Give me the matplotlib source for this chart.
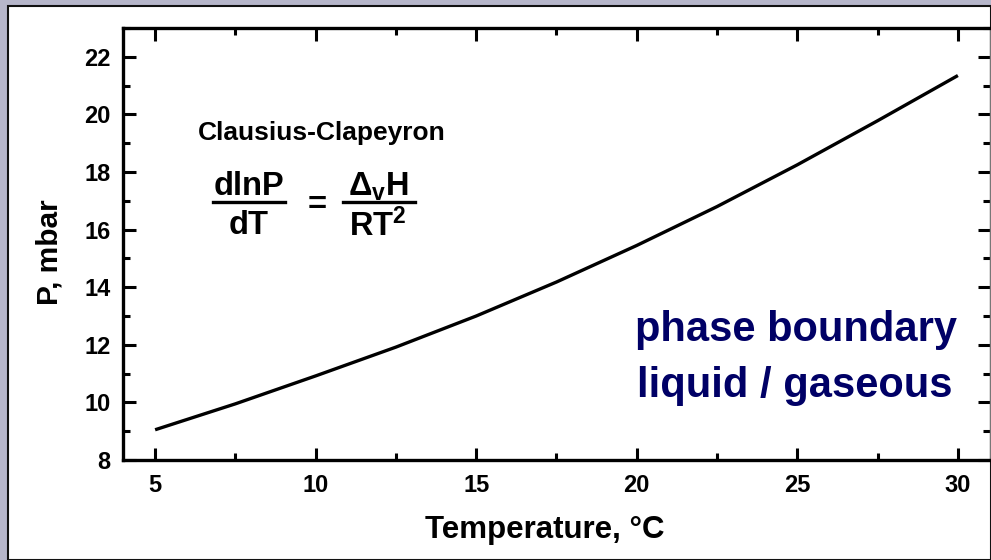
import matplotlib
matplotlib.use("Agg")
import matplotlib.pyplot as plt
from matplotlib.patches import Rectangle
from matplotlib.lines import Line2D
from matplotlib.ticker import MultipleLocator

temperature = [5, 7.5, 10, 12.5, 15, 17.5, 20, 22.5, 25, 27.5, 30]
pressure = [9.05, 9.95, 10.92, 11.92, 13.0, 14.18, 15.45, 16.8, 18.25, 19.78, 21.35]
x_ticks = [5, 10, 15, 20, 25, 30]
y_ticks = [8, 10, 12, 14, 16, 18, 20, 22]

plt.rcParams['font.family'] = ['Liberation Sans', 'DejaVu Sans']
plt.rcParams['font.weight'] = 'bold'
plt.rcParams['mathtext.fontset'] = 'custom'
plt.rcParams['mathtext.bf'] = 'Liberation Sans:bold'
plt.rcParams['mathtext.rm'] = 'Liberation Sans:bold'

W, H = 991, 560
fig = plt.figure(figsize=(W / 100, H / 100), dpi=100, facecolor='#b6b6ca')

# white panel
fig.patches.append(Rectangle((8 / W, 0), (W - 8) / W, (H - 6) / H, transform=fig.transFigure,
                             facecolor='white', edgecolor='#111111', linewidth=1.5, zorder=-5))

ax = fig.add_axes([123 / W, 100 / H, 867 / W, 432 / H])
ax.set_zorder(5)
ax.set_facecolor('none')
ax.plot(temperature, pressure, color='black', linewidth=2.4, solid_capstyle='butt')

ax.set_xlim(4, 31)
ax.set_ylim(8, 23)
ax.set_xticks(x_ticks)
ax.set_yticks(y_ticks)
ax.xaxis.set_minor_locator(MultipleLocator(2.5))
ax.yaxis.set_minor_locator(MultipleLocator(1))
ax.tick_params(which='both', direction='in', top=True, right=True, labelsize=17, width=2.2)
ax.tick_params(axis='x', pad=10)
ax.tick_params(axis='y', pad=9)
ax.tick_params(which='major', length=9)
ax.tick_params(which='minor', length=5)
for lab in ax.get_xticklabels() + ax.get_yticklabels():
    lab.set_fontweight('bold')

for s in ['left', 'bottom', 'top']:
    ax.spines[s].set_linewidth(2.4)
ax.spines['right'].set_linewidth(1.0)
ax.spines['right'].set_color('#777777')

ax.set_xlabel('Temperature, °C', fontsize=22.5, fontweight='bold', labelpad=13)
ax.set_ylabel('P, mbar', fontsize=21.5, fontweight='bold', labelpad=15)
ax.xaxis.label.set_x(0.4867)
ax.yaxis.label.set_y(0.481)

def fx(px):
    return px / W
def fy(py):
    return 1 - py / H

fig.text(fx(322), fy(133), 'Clausius-Clapeyron', fontsize=19, fontweight='bold', ha='center', va='center', zorder=6)
fig.text(fx(249), fy(187), 'dlnP', fontsize=23.5, fontweight='bold', ha='center', va='center', zorder=6)
fig.text(fx(249), fy(226), 'dT', fontsize=23.5, fontweight='bold', ha='center', va='center', zorder=6)
fig.text(fx(317), fy(206), '=', fontsize=23.5, fontweight='bold', ha='center', va='center', zorder=6)
fig.text(fx(378), fy(187), r'$\mathbf{\Delta_{v}}$H', fontsize=23.5, fontweight='bold', ha='center', va='center', zorder=6)
fig.text(fx(378), fy(226), r'RT$\mathbf{^{2}}$', fontsize=23.5, fontweight='bold', ha='center', va='center', zorder=6)
fig.lines.append(Line2D([fx(213), fx(285)], [fy(202), fy(202)], transform=fig.transFigure, color='black', linewidth=2.4, zorder=6))
fig.lines.append(Line2D([fx(343), fx(415)], [fy(202), fy(202)], transform=fig.transFigure, color='black', linewidth=2.4, zorder=6))

fig.text(fx(796), fy(330), 'phase boundary', fontsize=30, fontweight='bold', color='#000066', ha='center', va='center', zorder=6)
fig.text(fx(795), fy(386), 'liquid / gaseous', fontsize=30, fontweight='bold', color='#000066', ha='center', va='center', zorder=6)

fig.savefig('out.png', dpi=100, facecolor=fig.get_facecolor())
